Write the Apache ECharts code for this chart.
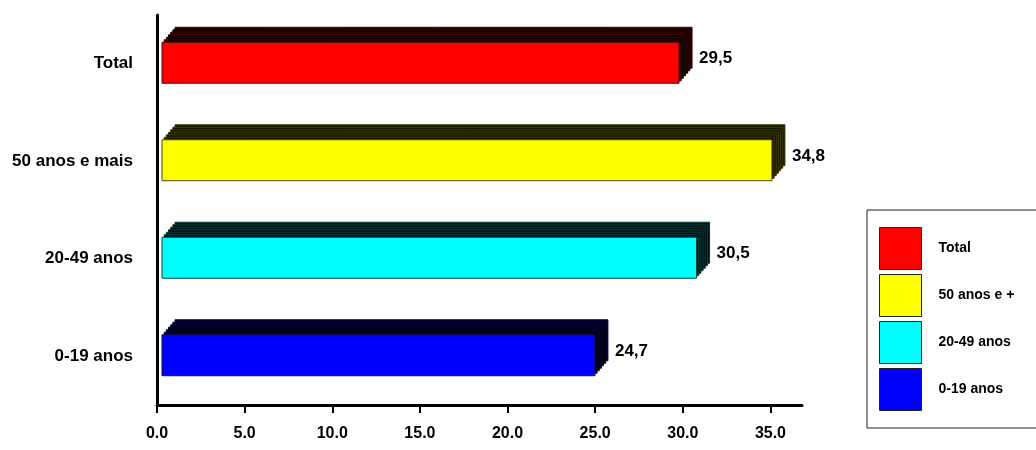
<!DOCTYPE html>
<html>
<head>
<meta charset="utf-8">
<script src="https://cdn.jsdelivr.net/npm/echarts@6/dist/echarts.min.js"></script>
<style>
  html, body { margin: 0; padding: 0; background: #fff; }
  #chart { width: 1036px; height: 450px; }
</style>
</head>
<body>
<div id="chart"></div>
<script>
// Age groups, top to bottom
const categories = ['Total', '50 anos e mais', '20-49 anos', '0-19 anos'];
const legendNames = ['Total', '50 anos e +', '20-49 anos', '0-19 anos'];
const values = [29.5, 34.8, 30.5, 24.7];
const tickValues = [0, 5, 10, 15, 20, 25, 30, 35];

const FONT = "'Liberation Sans', Arial, sans-serif";

// front, depth fill, depth stripe, outline
const palette = [
  ['#ff0000', '#160000', '#3c0000', '#3a1010'],
  ['#ffff00', '#161600', '#3c3c00', '#4a4a10'],
  ['#00ffff', '#001414', '#003a3a', '#104040'],
  ['#0000ff', '#000016', '#00003c', '#10103a']
];

const DX = 13, DY = 15, LAYERS = 6, SHIFT = 5;

function renderBox(colors) {
  return function (params, api) {
    const v = api.value(0);
    const c = api.value(1);
    const p0 = api.coord([0, c]);
    const p1 = api.coord([v, c]);
    const band = api.size([0, 1])[1];
    const h = band * 0.42;
    const cy = p0[1] - 1;
    const x0 = p0[0] + SHIFT;
    const x1 = p1[0] + SHIFT;
    const y0 = cy - h / 2;
    const children = [];
    // stacked depth layers, back to front
    for (let k = LAYERS; k >= 1; k--) {
      const ox = DX * k / LAYERS, oy = -DY * k / LAYERS;
      children.push({
        type: 'rect',
        shape: { x: x0 + ox, y: y0 + oy, width: x1 - x0, height: h },
        style: { fill: colors[1], stroke: colors[2], lineWidth: 1 }
      });
    }
    // front face
    children.push({
      type: 'rect',
      shape: { x: x0, y: y0, width: x1 - x0, height: h },
      style: { fill: colors[0], stroke: colors[3], lineWidth: 1 }
    });
    children.push({
      type: 'text',
      x: x1 + DX + 7,
      y: cy - 4,
      style: {
        text: v.toFixed(1).replace('.', ','),
        fontFamily: FONT, fontWeight: 'bold', fontSize: 17,
        fill: '#000', verticalAlign: 'middle', align: 'left'
      }
    });
    return { type: 'group', children: children };
  };
}

const series = categories.map(function (cat, i) {
  return {
    type: 'custom',
    name: legendNames[i],
    itemStyle: { color: palette[i][0] },
    renderItem: renderBox(palette[i]),
    encode: { x: 0, y: 1 },
    data: [[values[i], cat]]
  };
});

const chart = echarts.init(document.getElementById('chart'));
chart.setOption({
  animation: false,
  grid: { left: 157, right: 234, top: 15, bottom: 45, containLabel: false, outerBoundsMode: 'none' },
  xAxis: {
    type: 'value',
    min: 0,
    max: 36.8,
    interval: 5,
    splitLine: { show: false },
    axisLine: { show: true, lineStyle: { color: '#000', width: 3 } },
    axisTick: { show: true, length: 8, customValues: tickValues, lineStyle: { color: '#000', width: 2 } },
    axisLabel: {
      customValues: tickValues,
      formatter: function (v) { return v.toFixed(1); },
      margin: 21,
      fontFamily: FONT, fontWeight: 'bold', fontSize: 16, color: '#000'
    }
  },
  yAxis: {
    type: 'category',
    inverse: true,
    data: categories,
    axisLine: { show: true, lineStyle: { color: '#000', width: 3 } },
    axisTick: { show: false },
    axisLabel: {
      margin: 24,
      fontFamily: FONT, fontWeight: 'bold', fontSize: 17, color: '#000'
    }
  },
  legend: {
    orient: 'vertical',
    left: 867,
    top: 210,
    data: legendNames,
    icon: 'rect',
    itemWidth: 42,
    itemHeight: 42,
    itemGap: 4,
    padding: [17, 200, 17, 12],
    borderColor: '#222',
    borderWidth: 1,
    itemStyle: { borderColor: '#222', borderWidth: 1 },
    selectedMode: false,
    textStyle: {
      fontFamily: FONT, fontWeight: 'bold', fontSize: 14, color: '#000',
      padding: [0, 0, 0, 12]
    }
  },
  series: series
});
</script>
</body>
</html>
